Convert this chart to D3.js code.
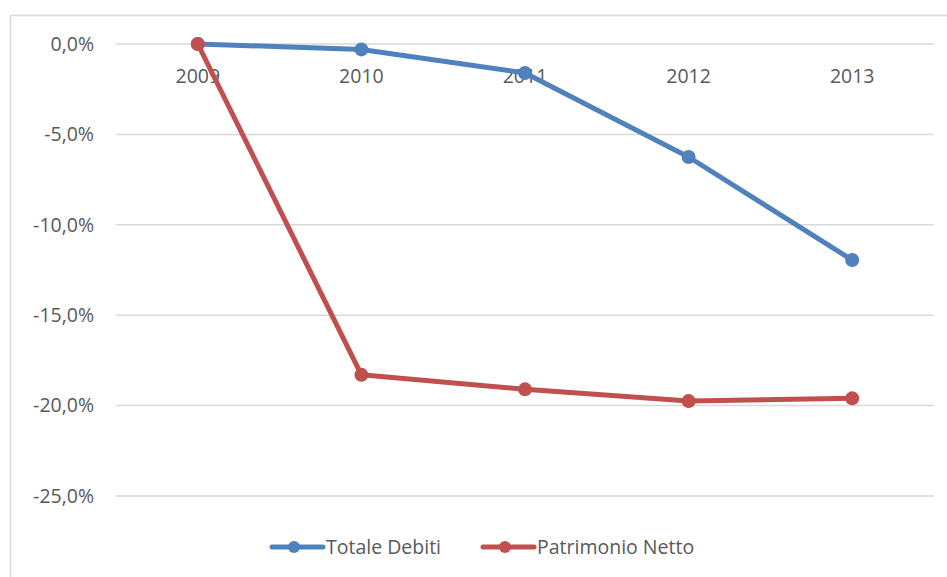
<!DOCTYPE html>
<html><head><meta charset="utf-8">
<script src="https://cdn.jsdelivr.net/npm/d3@7"></script>
<style>body{margin:0;background:#fff}svg{display:block}</style>
</head><body>
<script>
const categories = ["2009","2010","2011","2012","2013"];
const totaleDebiti = [0.0, -0.3, -1.6, -6.25, -11.95];
const patrimonioNetto = [0.0, -18.3, -19.1, -19.75, -19.6];
const yTicks = [0, -5, -10, -15, -20, -25];
const seriesNames = ["Totale Debiti", "Patrimonio Netto"];
const colors = ["#4F81BD", "#C0504D"];

const W = 947, H = 577;
const svg = d3.select("body").append("svg").attr("width", W).attr("height", H);
const font = "Open Sans, Liberation Sans, sans-serif";
const fs = 19.5;

// outer frame (cropped at right/bottom)
svg.append("rect").attr("x", 10.5).attr("y", 15.5).attr("width", 960).attr("height", 600)
  .attr("fill", "none").attr("stroke", "#D9D9D9").attr("stroke-width", 1.5);

const x = d3.scaleBand().domain(categories).range([116, 934]);
const y = d3.scaleLinear().domain([0, -25]).range([44, 496]);

// gridlines
svg.append("g").selectAll("line").data(yTicks).join("line")
  .attr("x1", 116).attr("x2", 934)
  .attr("y1", d => y(d)).attr("y2", d => y(d))
  .attr("stroke", "#D9D9D9").attr("stroke-width", 1.5);

// y axis labels
const fmt = d => d3.format(".1f")(d).replace(".", ",").replace("−","-") + "%";
const yAxis = d3.axisLeft(y).tickValues(yTicks).tickSize(0).tickPadding(0).tickFormat(fmt);
const gy = svg.append("g").attr("transform", "translate(94,0)").call(yAxis);
gy.select(".domain").remove();
gy.selectAll("text").attr("font-family", font).attr("font-size", fs).attr("fill", "#595959");

// x axis labels
const xAxis = d3.axisBottom(x).tickSize(0).tickPadding(0);
const gx = svg.append("g").attr("transform", "translate(0,69)").call(xAxis);
gx.select(".domain").remove();
gx.selectAll("text").attr("font-family", font).attr("font-size", fs).attr("fill", "#595959");

const line = d3.line().x((d, i) => x(categories[i]) + x.bandwidth() / 2).y(d => y(d));
const data = [totaleDebiti, patrimonioNetto];
data.forEach((s, k) => {
  const g = svg.append("g");
  g.append("path").datum(s).attr("d", line).attr("fill", "none")
    .attr("stroke", colors[k]).attr("stroke-width", 5).attr("stroke-linejoin", "round").attr("stroke-linecap", "round");
  g.selectAll("circle").data(s).join("circle")
    .attr("cx", (d, i) => x(categories[i]) + x.bandwidth() / 2).attr("cy", d => y(d))
    .attr("r", 7).attr("fill", colors[k]);
});

// legend
const legX = [270, 481];
seriesNames.forEach((n, k) => {
  const g = svg.append("g").attr("transform", `translate(${legX[k]},547)`);
  g.append("line").attr("x1", 2).attr("x2", 53).attr("y1", 0).attr("y2", 0)
    .attr("stroke", colors[k]).attr("stroke-width", 5).attr("stroke-linecap", "round");
  g.append("circle").attr("cx", 24).attr("cy", 0).attr("r", 6).attr("fill", colors[k]);
  g.append("text").attr("x", 56).attr("y", 0).attr("dy", "0.35em")
    .attr("font-family", font).attr("font-size", fs).attr("fill", "#595959").text(n);
});
</script>
</body></html>
